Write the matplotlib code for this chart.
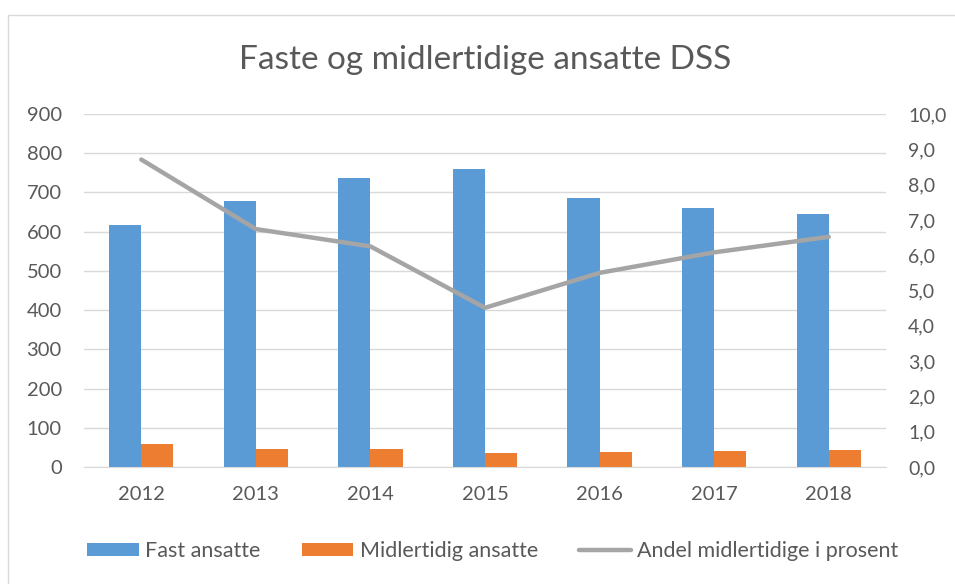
import matplotlib.pyplot as plt
from matplotlib.patches import Rectangle
import numpy as np

years = ['2012', '2013', '2014', '2015', '2016', '2017', '2018']
fast_ansatte = [617, 678, 736, 761, 687, 660, 645]
midlertidig_ansatte = [58, 47, 47, 35, 39, 42, 44]
andel_prosent = [8.71, 6.74, 6.25, 4.51, 5.50, 6.08, 6.52]

blue = '#5B9BD5'
orange = '#ED7D31'
gray = '#A5A5A5'
text_col = '#595959'

plt.rcParams['font.family'] = ['Lato', 'DejaVu Sans']

fig = plt.figure(figsize=(9.55, 5.84), dpi=100)
# chart border: only left and top edges are inside the picture
fig.patches.append(Rectangle((8 / 955, -0.1), 1.2, 1.1 - 15 / 584, transform=fig.transFigure,
                             fill=False, edgecolor='#D9D9D9', linewidth=1))

ax = fig.add_axes([84 / 955, 1 - 467 / 584, 802 / 955, 353 / 584])
ax2 = ax.twinx()

x = np.arange(len(years))
w = 0.28
ax.bar(x - w / 2, fast_ansatte, w, color=blue, label='Fast ansatte', zorder=2)
ax.bar(x + w / 2, midlertidig_ansatte, w, color=orange, label='Midlertidig ansatte', zorder=2)
ax2.plot(x, andel_prosent, color=gray, linewidth=3.2, solid_capstyle='round',
         label='Andel midlertidige i prosent')

ax.set_xlim(-0.5, len(years) - 0.5)
ax.set_ylim(0, 900)
ax.set_yticks(range(0, 901, 100))
ax2.set_ylim(0, 10)
ax2.set_yticks(range(0, 11))
ax2.set_yticklabels([f'{v},0' for v in range(0, 11)])
ax.set_xticks(x)
ax.set_xticklabels(years)

ax.grid(axis='y', color='#D9D9D9', linewidth=1, zorder=0)
ax.set_axisbelow(True)
for a in (ax, ax2):
    for s in a.spines.values():
        s.set_visible(False)
    a.tick_params(length=0, labelsize=14.5, colors=text_col)
ax2.tick_params(labelsize=14)
ax.spines['bottom'].set_visible(True)
ax.spines['bottom'].set_color('#D9D9D9')
ax.tick_params(axis='y', pad=16)
ax.tick_params(axis='x', pad=14)
ax2.tick_params(axis='y', pad=16)

fig.text(0.508, 1 - 60 / 584, 'Faste og midlertidige ansatte DSS', ha='center', va='center',
         fontsize=24, color=text_col)

h1, l1 = ax.get_legend_handles_labels()
h2, l2 = ax2.get_legend_handles_labels()
fig.legend(h1 + h2, l1 + l2, loc='center', bbox_to_anchor=(0.516, 1 - 551 / 584), ncol=3,
           frameon=False, fontsize=15.5, labelcolor=text_col, handlelength=2.4,
           handleheight=0.6, columnspacing=1.9, handletextpad=0.3)

fig.savefig('out.png', dpi=100)
